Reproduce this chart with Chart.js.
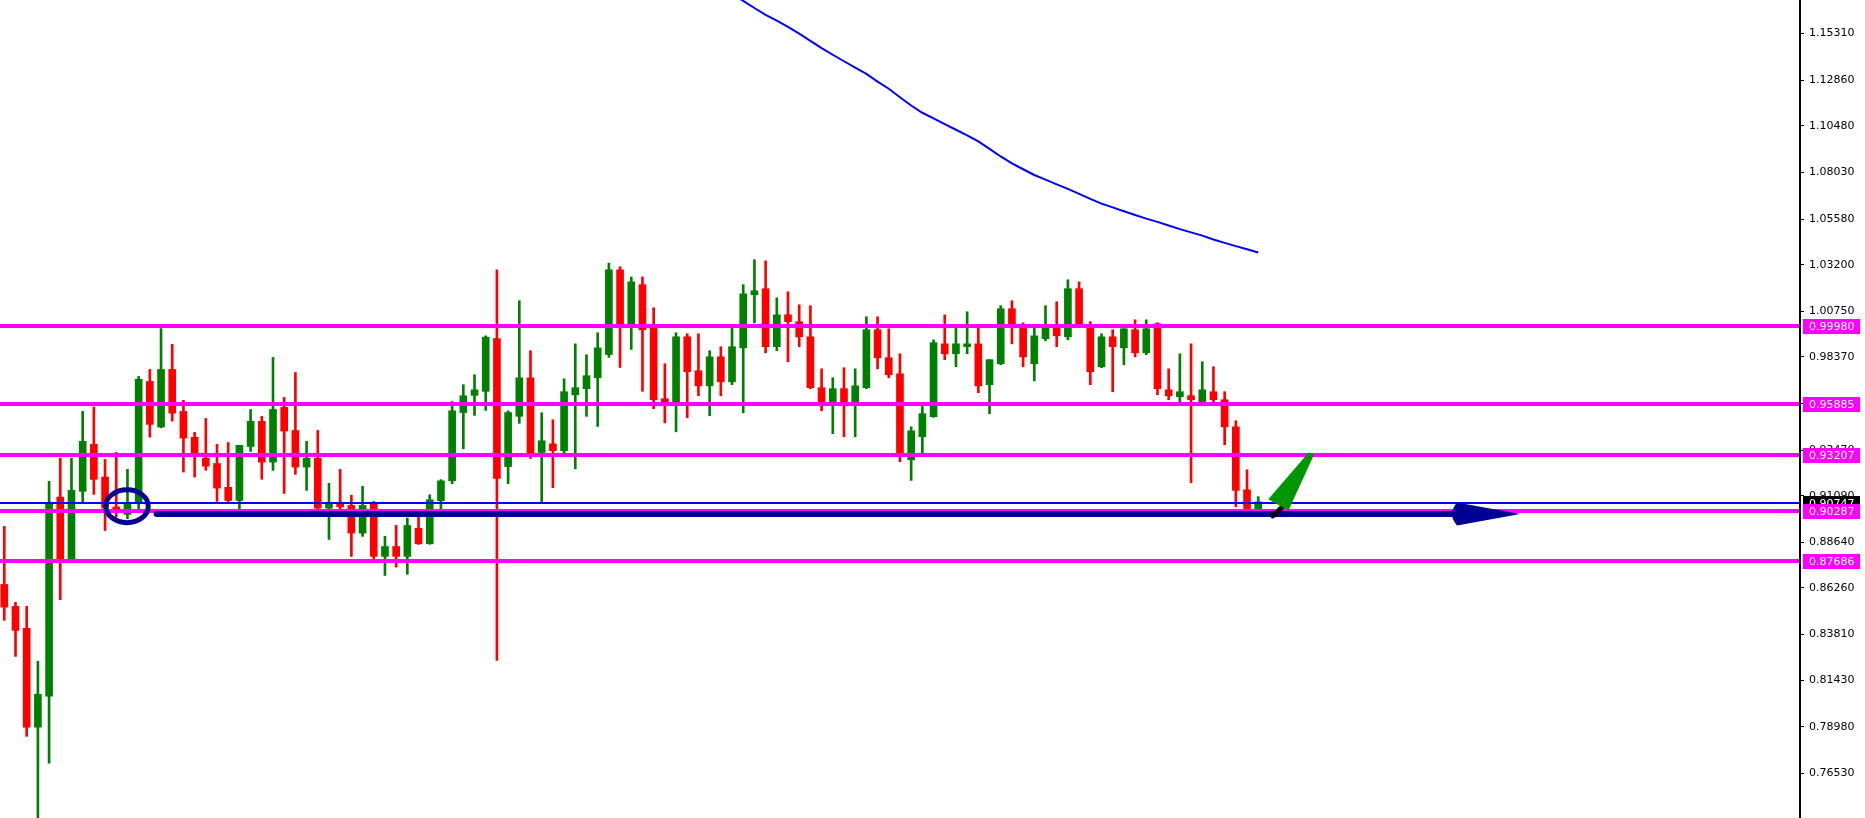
<!DOCTYPE html>
<html>
<head>
<meta charset="utf-8">
<title>Candles</title>
<script src="https://cdn.jsdelivr.net/npm/chart.js@4.4.1/dist/chart.umd.min.js"></script>
<style>
  html, body { margin: 0; padding: 0; background: #fff; overflow: hidden; }
  canvas { display: block; }
</style>
</head>
<body>
<canvas id="chart" width="1865" height="818"></canvas>
<script>
// candles, oldest first
const opens = [
  0.8644, 0.8529, 0.8414, 0.7896, 0.8059, 0.9102, 0.8779, 0.9132, 0.9378, 0.9207,
  0.9050, 0.9011, 0.9075, 0.9708, 0.9469, 0.9771, 0.9551, 0.9415, 0.9306, 0.9278,
  0.9153, 0.9084, 0.9367, 0.9499, 0.9285, 0.9572, 0.9451, 0.9259, 0.9306, 0.9044,
  0.9072, 0.9058, 0.8913, 0.9067, 0.8791, 0.8843, 0.8791, 0.8938, 0.8857, 0.9083,
  0.9187, 0.9545, 0.9635, 0.9656, 0.9932, 0.9262, 0.9525, 0.9727, 0.9336, 0.9381,
  0.9345, 0.9638, 0.9670, 0.9727, 0.9849, 1.0293, 1.0010, 1.0215, 0.9989, 0.9617,
  0.9594, 0.9942, 0.9764, 0.9685, 0.9837, 0.9706, 0.9884, 1.0162, 1.0194, 0.9890,
  1.0057, 1.0021, 0.9942, 0.9675, 0.9594, 0.9670, 0.9594, 0.9675, 0.9979, 0.9832,
  0.9748, 0.9297, 0.9418, 0.9523, 0.9905, 0.9853, 0.9890, 0.9905, 0.9691, 0.9801,
  1.0089, 0.9989, 0.9801, 0.9932, 0.9989, 0.9942, 1.0194, 0.9989, 0.9785, 0.9942,
  0.9884, 0.9979, 0.9858, 1.0010, 0.9664, 0.9628, 0.9633, 0.9594, 0.9654, 0.9612,
  0.9470, 0.9140, 0.9036
];
const highs = [
  0.8948, 0.8550, 0.8529, 0.8241, 0.9184, 0.9306, 0.9306, 0.9551, 0.9574, 0.9299,
  0.9336, 0.9247, 0.9734, 0.9771, 0.9985, 0.9902, 0.9609, 0.9441, 0.9514, 0.9378,
  0.9388, 0.9373, 0.9561, 0.9525, 0.9834, 0.9624, 0.9755, 0.9394, 0.9451, 0.9174,
  0.9247, 0.9111, 0.9158, 0.9079, 0.8896, 0.8953, 0.8992, 0.9015, 0.9114, 0.9193,
  0.9603, 0.9691, 0.9743, 0.9947, 1.0293, 0.9554, 1.0131, 0.9869, 0.9544, 0.9507,
  0.9722, 0.9905, 0.9848, 0.9963, 1.0328, 1.0309, 1.0255, 1.0255, 1.0094, 0.9801,
  0.9963, 0.9958, 0.9958, 0.9869, 0.9890, 0.9989, 1.0215, 1.0346, 1.0340, 1.0146,
  1.0178, 1.0110, 1.0105, 0.9774, 0.9727, 0.9780, 0.9774, 1.0047, 1.0047, 0.9984,
  0.9853, 0.9470, 0.9577, 0.9926, 1.0057, 1.0005, 1.0073, 1.0005, 0.9822, 1.0105,
  1.0131, 1.0015, 0.9995, 1.0105, 1.0126, 1.0241, 1.0230, 1.0021, 0.9958, 0.9979,
  0.9985, 1.0031, 1.0031, 1.0015, 0.9774, 0.9853, 0.9905, 0.9811, 0.9785, 0.9654,
  0.9502, 0.9245, 0.9104
];
const lows = [
  0.8456, 0.8267, 0.7848, 0.7380, 0.7708, 0.8564, 0.8775, 0.9067, 0.9116, 0.8927,
  0.8997, 0.8988, 0.9041, 0.9416, 0.9465, 0.9500, 0.9233, 0.9207, 0.9242, 0.9079,
  0.9067, 0.9037, 0.9341, 0.9195, 0.9242, 0.9121, 0.9221, 0.9137, 0.9037, 0.8880,
  0.9037, 0.8791, 0.8896, 0.8779, 0.8691, 0.8735, 0.8697, 0.8854, 0.8855, 0.9041,
  0.9172, 0.9355, 0.9530, 0.9556, 0.8246, 0.9172, 0.9488, 0.9304, 0.9067, 0.9151,
  0.9332, 0.9250, 0.9525, 0.9472, 0.9834, 0.9781, 0.9876, 0.9656, 0.9565, 0.9491,
  0.9444, 0.9518, 0.9633, 0.9528, 0.9633, 0.9691, 0.9544, 1.0015, 0.9858, 0.9869,
  0.9811, 0.9890, 0.9670, 0.9554, 0.9434, 0.9418, 0.9418, 0.9670, 0.9774, 0.9727,
  0.9287, 0.9189, 0.9332, 0.9520, 0.9822, 0.9785, 0.9853, 0.9649, 0.9539, 0.9795,
  0.9905, 0.9785, 0.9711, 0.9921, 0.9890, 0.9926, 0.9995, 0.9691, 0.9780, 0.9654,
  0.9795, 0.9837, 0.9848, 0.9638, 0.9612, 0.9601, 0.9177, 0.9592, 0.9596, 0.9376,
  0.9051, 0.9000, 0.9005
];
const closes = [
  0.8525, 0.8403, 0.7896, 0.8068, 0.9067, 0.8779, 0.9137, 0.9394, 0.9195, 0.9044,
  0.9032, 0.9072, 0.9719, 0.9483, 0.9771, 0.9542, 0.9411, 0.9329, 0.9264, 0.9149,
  0.9084, 0.9373, 0.9499, 0.9285, 0.9561, 0.9448, 0.9259, 0.9306, 0.9044, 0.9072,
  0.9050, 0.8913, 0.9058, 0.8791, 0.8843, 0.8791, 0.8953, 0.8857, 0.9088, 0.9187,
  0.9554, 0.9633, 0.9664, 0.9940, 0.9200, 0.9545, 0.9727, 0.9332, 0.9397, 0.9345,
  0.9654, 0.9675, 0.9738, 0.9884, 1.0293, 1.0010, 1.0230, 0.9979, 0.9612, 0.9594,
  0.9942, 0.9759, 0.9685, 0.9837, 0.9706, 0.9890, 1.0167, 1.0183, 0.9890, 1.0057,
  1.0021, 0.9942, 0.9675, 0.9594, 0.9670, 0.9594, 0.9685, 0.9979, 0.9832, 0.9743,
  0.9332, 0.9449, 0.9539, 0.9911, 0.9853, 0.9905, 0.9905, 0.9685, 0.9822, 1.0089,
  1.0000, 0.9837, 0.9947, 0.9989, 0.9947, 1.0194, 1.0005, 0.9759, 0.9942, 0.9890,
  0.9984, 0.9858, 0.9984, 0.9670, 0.9633, 0.9654, 0.9612, 0.9664, 0.9612, 0.9470,
  0.9137, 0.9035, 0.9077
];

// moving average, only the part on screen (from candle 65)
const maStart = 65;
const maValues = [
  1.1738, 1.1702, 1.1665, 1.1629, 1.1599, 1.1566, 1.1531, 1.1493, 1.1455, 1.1420,
  1.1386, 1.1353, 1.1320, 1.1279, 1.1242, 1.1197, 1.1154, 1.1116, 1.1087, 1.1057,
  1.1027, 1.0998, 1.0966, 1.0927, 1.0887, 1.0851, 1.0820, 1.0790, 1.0766, 1.0741,
  1.0717, 1.0691, 1.0665, 1.0640, 1.0620, 1.0600, 1.0580, 1.0561, 1.0544, 1.0525,
  1.0506, 1.0489, 1.0472, 1.0452, 1.0434, 1.0417, 1.0401, 1.0384
];

const priceTicks = [
  1.15310, 1.12860, 1.10480, 1.08030, 1.05580, 1.03200, 1.00750, 0.98370, 0.95920,
  0.93470, 0.91090, 0.88640, 0.86260, 0.83810, 0.81430, 0.78980, 0.76530
];
const levels = [0.99980, 0.95885, 0.93207, 0.90287, 0.87686];
const bidPrice = 0.9071;
const bidText = '0.90747';

// hand drawn marks, in candle index / price units
const circleMark = { x: 10.96, y: 0.9054, rx: 1.9, ry: 0.0086 };
const arrowMark = { from: 13.6, headAt: 129.4, to: 135.4, y: 0.9013, half: 0.006 };
const greenHead = [[112.9, 0.9090], [116.5, 0.9335], [117.0, 0.9326], [114.7, 0.9031]];
const greenShaft = [[113.3, 0.9003], [114.2, 0.9052]];

const xMin = -0.3841, xMax = 160.39;
const yMax = 1.1707, yMin = 0.7420;

const idx = opens.map((_, i) => i);
const colors = idx.map(i => closes[i] >= opens[i] ? '#008000' : '#ff0000');

const overlay = {
  id: 'overlay',
  afterDatasetsDraw(chart) {
    const { ctx, chartArea: a, scales: { x, y } } = chart;
    ctx.save();
    ctx.beginPath();
    ctx.rect(a.left, a.top, a.right - a.left - 1, a.bottom - a.top);
    ctx.clip();

    // bid line
    ctx.strokeStyle = '#0000ff';
    ctx.lineWidth = 2;
    let py = Math.round(y.getPixelForValue(bidPrice));
    ctx.beginPath();
    ctx.moveTo(a.left, py);
    ctx.lineTo(a.right, py);
    ctx.stroke();

    // horizontal levels
    ctx.strokeStyle = '#ff00ff';
    ctx.lineWidth = 4;
    levels.forEach(v => {
      const p = Math.round(y.getPixelForValue(v));
      ctx.beginPath();
      ctx.moveTo(a.left, p);
      ctx.lineTo(a.right, p);
      ctx.stroke();
    });

    // navy circle and arrow
    const navy = '#000096';
    ctx.strokeStyle = navy;
    ctx.fillStyle = navy;
    ctx.lineWidth = 5;
    const cx = x.getPixelForValue(circleMark.x), cy = y.getPixelForValue(circleMark.y);
    const rx = x.getPixelForValue(circleMark.x + circleMark.rx) - cx;
    const ry = y.getPixelForValue(circleMark.y - circleMark.ry) - cy;
    ctx.beginPath();
    ctx.ellipse(cx, cy, rx, ry, 0, 0, Math.PI * 2);
    ctx.stroke();

    const ay = y.getPixelForValue(arrowMark.y);
    const hx = x.getPixelForValue(arrowMark.headAt);
    const tx = x.getPixelForValue(arrowMark.to);
    const hh = y.getPixelForValue(arrowMark.y - arrowMark.half) - ay;
    ctx.lineWidth = 6;
    ctx.lineCap = 'round';
    ctx.beginPath();
    ctx.moveTo(x.getPixelForValue(arrowMark.from), ay);
    ctx.lineTo(hx + 6, ay);
    ctx.stroke();
    ctx.beginPath();
    ctx.moveTo(hx + 4, ay - hh);
    ctx.lineTo(tx, ay);
    ctx.lineTo(hx + 4, ay + hh);
    ctx.quadraticCurveTo(hx - 6, ay, hx + 4, ay - hh);
    ctx.fill();

    // green arrow
    ctx.strokeStyle = '#000';
    ctx.lineWidth = 5;
    ctx.beginPath();
    ctx.moveTo(x.getPixelForValue(greenShaft[0][0]), y.getPixelForValue(greenShaft[0][1]));
    ctx.lineTo(x.getPixelForValue(greenShaft[1][0]), y.getPixelForValue(greenShaft[1][1]));
    ctx.stroke();
    ctx.fillStyle = '#009600';
    ctx.beginPath();
    greenHead.forEach(([gx, gy], k) => {
      const px = x.getPixelForValue(gx), pyy = y.getPixelForValue(gy);
      if (k === 0) ctx.moveTo(px, pyy); else ctx.lineTo(px, pyy);
    });
    ctx.closePath();
    ctx.fill();
    ctx.restore();
  },
  afterDraw(chart) {
    const { ctx, chartArea: a, scales: { y } } = chart;
    const box = (v, fill, text) => {
      const p = Math.round(y.getPixelForValue(v));
      ctx.fillStyle = fill;
      ctx.fillRect(a.right + 3, p - 7, 57, 15);
      ctx.fillStyle = '#fff';
      ctx.font = '11px "DejaVu Sans"';
      ctx.textAlign = 'left';
      ctx.textBaseline = 'middle';
      ctx.fillText(text, a.right + 9, p + 1);
    };
    ctx.save();
    box(bidPrice, '#000', bidText);
    levels.forEach(v => box(v, '#ff00ff', v.toFixed(5)));
    ctx.restore();
  }
};

new Chart(document.getElementById('chart'), {
  type: 'bar',
  data: {
    datasets: [
      {
        data: idx.map(i => ({ x: i, y: [lows[i], highs[i]] })),
        backgroundColor: colors,
        barThickness: 2,
        grouped: false,
        order: 2
      },
      {
        data: idx.map(i => ({ x: i, y: [opens[i], closes[i]] })),
        backgroundColor: colors,
        barThickness: 7,
        minBarLength: 1,
        grouped: false,
        order: 1
      },
      {
        type: 'line',
        data: maValues.map((v, k) => ({ x: maStart + k, y: v })),
        borderColor: '#0000ff',
        borderWidth: 2,
        pointRadius: 0,
        tension: 0,
        order: 0
      }
    ]
  },
  options: {
    responsive: false,
    animation: false,
    events: [],
    layout: { padding: 0, autoPadding: false },
    scales: {
      x: {
        type: 'linear',
        min: xMin,
        max: xMax,
        offset: false,
        display: false,
        grid: { offset: false }
      },
      y: {
        position: 'right',
        min: yMin,
        max: yMax,
        afterBuildTicks: scale => {
          scale.ticks = priceTicks.map(v => ({ value: v }));
        },
        afterFit: scale => {
          scale.width = 65;
          scale.paddingTop = 0;
          scale.paddingBottom = 0;
        },
        grid: { drawOnChartArea: false, drawTicks: true, tickLength: 4, color: '#000', tickColor: '#000' },
        border: { display: true, color: '#000', width: 2 },
        ticks: {
          autoSkip: false,
          padding: 5,
          color: '#000',
          font: { family: 'DejaVu Sans', size: 11 },
          callback: v => v.toFixed(5)
        }
      }
    },
    plugins: {
      legend: { display: false },
      tooltip: { enabled: false }
    }
  },
  plugins: [overlay]
});
</script>
</body>
</html>
